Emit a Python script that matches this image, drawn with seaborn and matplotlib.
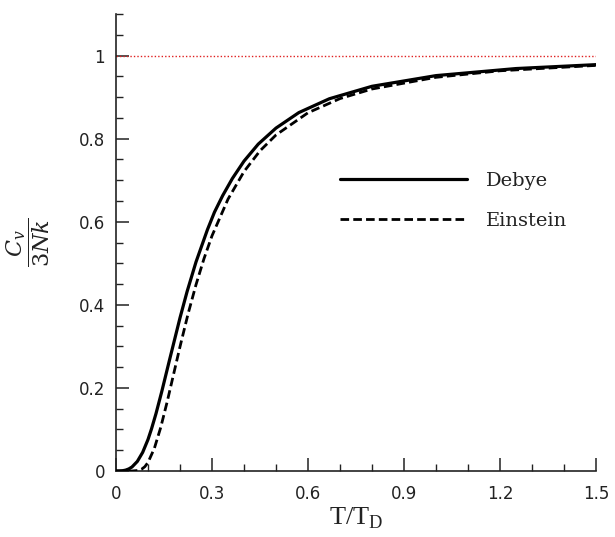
import numpy as np
import pandas as pd
import matplotlib
matplotlib.use("Agg")
import matplotlib.pyplot as plt
from matplotlib.ticker import MultipleLocator, FuncFormatter
import seaborn as sns

# Values
t_debye = [0, 0.01, 0.02, 0.03, 0.04, 0.05, 0.0667, 0.0833, 0.1, 0.111, 0.125,
           0.1429, 0.1667, 0.2, 0.2222, 0.25, 0.2857, 0.3077, 0.3333, 0.3636, 0.4,
           0.4444, 0.5, 0.5714, 0.6667, 0.8, 1.0, 1.25, 1.5]
c_debye = [0, 0.0001, 0.0006, 0.0021, 0.0050, 0.0097, 0.0231, 0.0448, 0.0758, 0.1015, 0.1382,
           0.1909, 0.2656, 0.3686, 0.4320, 0.5031, 0.5808, 0.6230, 0.6628, 0.7040, 0.7459,
           0.7867, 0.8254, 0.8627, 0.8960, 0.9260, 0.9517, 0.9687, 0.9781]

t_einstein = [0, 0.05, 0.07, 0.08, 0.09, 0.1, 0.12, 0.14, 0.16, 0.18, 0.2, 0.225, 0.25,
              0.275, 0.3, 0.35, 0.4, 0.45, 0.5, 0.6, 0.7, 0.8, 1.0, 1.2, 1.5]
c_einstein = [0, 0.0000, 0.0013, 0.0043, 0.0103, 0.0205, 0.0548, 0.1055, 0.1669, 0.2330, 0.2992,
              0.3776, 0.4484, 0.5112, 0.5661, 0.6543, 0.7207, 0.7707, 0.8088, 0.8623, 0.8964,
              0.9195, 0.9476, 0.9633, 0.9763]

series_labels = ["Debye", "Einstein"]
x_ticks = [0, 0.3, 0.6, 0.9, 1.2, 1.5]
y_ticks = [0, 0.2, 0.4, 0.6, 0.8, 1.0]
limit_value = 1.0

df_d = pd.DataFrame({"t": t_debye, "c": c_debye})
df_e = pd.DataFrame({"t": t_einstein, "c": c_einstein})

sns.set_theme(style="ticks")
plt.rcParams["font.family"] = ["DejaVu Sans"]
plt.rcParams["mathtext.fontset"] = "dejavuserif"

fig = plt.figure(figsize=(6.15, 5.37), dpi=100)
ax = fig.add_axes([116 / 615, 1 - 471 / 537, 480 / 615, 457 / 537])

ax.axhline(limit_value, color="#e02020", lw=1.0, ls=(0, (1, 1.5)), zorder=1)
sns.lineplot(data=df_d, x="t", y="c", ax=ax, color="black", lw=2.3,
             label=series_labels[0], sort=False, zorder=3)
sns.lineplot(data=df_e, x="t", y="c", ax=ax, color="black", lw=2.0,
             linestyle=(0, (3.1, 1.5)), label=series_labels[1], sort=False, zorder=3)

ax.set_xlim(0, 1.5)
ax.set_ylim(0, 1.1)
ax.set_xticks(x_ticks)
ax.set_yticks(y_ticks)
ax.xaxis.set_minor_locator(MultipleLocator(0.1))
ax.yaxis.set_minor_locator(MultipleLocator(0.05))
fmt = FuncFormatter(lambda v, p: "%g" % round(v, 3))
ax.xaxis.set_major_formatter(fmt)
ax.yaxis.set_major_formatter(fmt)

for s in ["top", "right"]:
    ax.spines[s].set_visible(False)
for s in ["left", "bottom"]:
    ax.spines[s].set_linewidth(1.2)
    ax.spines[s].set_color("#222222")

ax.tick_params(which="major", direction="in", length=9.5, width=1.1, color="#222222",
               labelsize=12, labelcolor="#222222")
ax.tick_params(which="minor", direction="in", length=5, width=1.0, color="#222222")
ax.tick_params(axis="y", which="major", pad=8)
ax.tick_params(axis="x", which="major", pad=10)

ax.set_xlabel(r"T/T$_\mathregular{D}$", family="Liberation Serif", fontsize=19,
              labelpad=2, color="#222222")
ax.set_ylabel(r"$\dfrac{C_v}{3Nk}$", fontsize=16, labelpad=19, color="#222222")

leg = ax.legend(loc="upper left", bbox_to_anchor=(0.4667, 0.655), frameon=False,
                handlelength=6.55, handletextpad=0.93, labelspacing=1.14,
                borderpad=0, borderaxespad=0,
                prop={"family": "DejaVu Serif", "size": 14})
for txt in leg.get_texts():
    txt.set_color("#222222")

fig.savefig("out.png", dpi=100)
